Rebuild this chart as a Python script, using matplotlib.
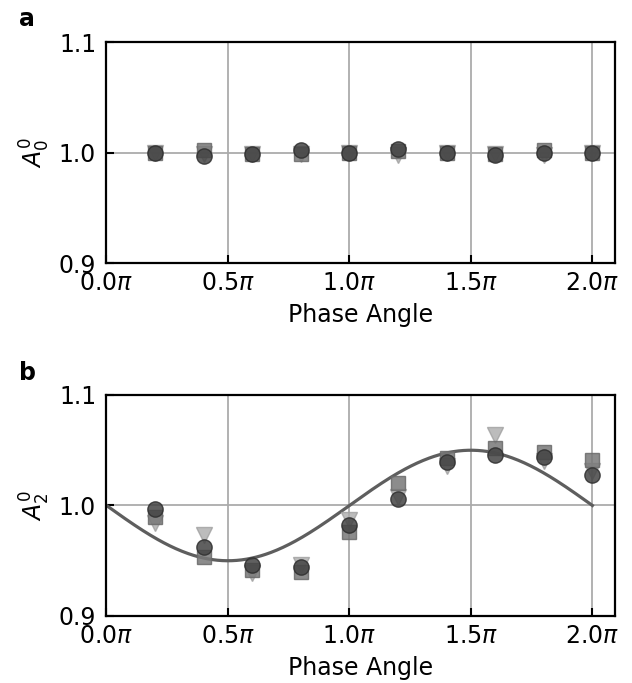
import numpy as np
import matplotlib
matplotlib.use("Agg")
import matplotlib.pyplot as plt

# phase angles in units of pi
phase = [0.2, 0.4, 0.6, 0.8, 1.0, 1.2, 1.4, 1.6, 1.8, 2.0]
xticks = [0.0, 0.5, 1.0, 1.5, 2.0]
xticklabels = ["0.0$\\pi$", "0.5$\\pi$", "1.0$\\pi$", "1.5$\\pi$", "2.0$\\pi$"]
yticks = [0.9, 1.0, 1.1]

# panel a: A_0^0
a_circle = [1.000, 0.997, 0.999, 1.002, 1.000, 1.003, 1.000, 0.998, 1.000, 1.000]
a_square = [1.000, 1.002, 0.999, 0.999, 1.000, 1.001, 1.000, 0.999, 1.002, 1.000]
a_tri = [1.000, 0.999, 0.999, 0.999, 1.000, 0.998, 1.000, 0.999, 0.998, 1.000]

# panel b: A_2^0
b_circle = [0.997, 0.962, 0.946, 0.944, 0.982, 1.006, 1.039, 1.046, 1.044, 1.028]
b_square = [0.990, 0.953, 0.942, 0.940, 0.976, 1.020, 1.043, 1.052, 1.048, 1.041]
b_tri = [0.984, 0.973, 0.939, 0.946, 0.987, 1.008, 1.036, 1.064, 1.040, 1.031]

# theoretical curve amplitude
amp = 0.05

plt.rcParams["font.family"] = ["DejaVu Sans"]
FS = 17

fig = plt.figure(figsize=(6.32, 6.83), dpi=100)
left, width, height = 0.1685, 0.8046, 0.3236
ax_a = fig.add_axes([left, 0.6149, width, height])
ax_b = fig.add_axes([left, 0.0981, width, height])

def style(ax, ylabel):
    ax.set_xlim(0, 2.093)
    ax.set_ylim(0.9, 1.1)
    ax.set_xticks(xticks)
    ax.set_xticklabels(xticklabels)
    ax.set_yticks(yticks)
    ax.set_yticklabels(["0.9", "1.0", "1.1"])
    ax.grid(True, color="#ababab", linewidth=1.3, zorder=0)
    ax.set_axisbelow(True)
    ax.tick_params(direction="in", length=6, width=1.5, labelsize=FS)
    ax.tick_params(axis="x", pad=5.5)
    ax.tick_params(axis="y", pad=7.5)
    for s in ax.spines.values():
        s.set_linewidth(1.6)
        s.set_color("black")
    ax.set_xlabel("Phase Angle", fontsize=FS, labelpad=6)
    ax.set_ylabel(ylabel, fontsize=FS, labelpad=4.5)

def markers(ax, c, s, t):
    ax.plot(phase, t, "v", ms=11.5, color="#ababab", mec="#a0a0a0", mew=1.0,
            alpha=0.8, zorder=3, clip_on=False)
    ax.plot(phase, s, "s", ms=10.5, color="#787878", mec="#6a6a6a", mew=1.0,
            alpha=0.85, zorder=4, clip_on=False)
    ax.plot(phase, c, "o", ms=11, color="#444444", mec="#2e2e2e", mew=1.0,
            alpha=0.85, zorder=5, clip_on=False)

style(ax_a, "$A_0^0$")
style(ax_b, "$A_2^0$")
markers(ax_a, a_circle, a_square, a_tri)

theta = np.linspace(0, 2, 400)
ax_b.plot(theta, 1 - amp * np.sin(np.pi * theta), color="#5e5e5e", lw=2.3, zorder=2)
markers(ax_b, b_circle, b_square, b_tri)

fig.text(0.030, 0.962, "a", fontsize=FS, fontweight="bold")
fig.text(0.030, 0.443, "b", fontsize=FS, fontweight="bold")

fig.savefig("out.png", dpi=100)
